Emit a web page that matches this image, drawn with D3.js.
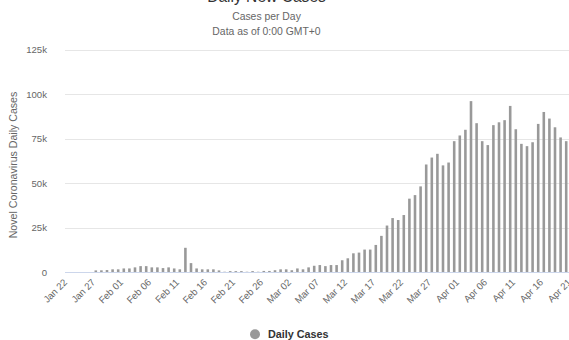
<!DOCTYPE html>
<html><head><meta charset="utf-8">
<script src="https://cdn.jsdelivr.net/npm/d3@7"></script>
<style>
html,body{margin:0;padding:0;background:#fff;overflow:hidden;}
svg{display:block;font-family:"Liberation Sans",Arial,Helvetica,sans-serif;}
</style></head>
<body><svg id="chart" width="569" height="340"></svg>
<script>
const categories = [
 "Jan 22","Jan 23","Jan 24","Jan 25","Jan 26","Jan 27","Jan 28","Jan 29","Jan 30","Jan 31",
 "Feb 01","Feb 02","Feb 03","Feb 04","Feb 05","Feb 06","Feb 07","Feb 08","Feb 09","Feb 10",
 "Feb 11","Feb 12","Feb 13","Feb 14","Feb 15","Feb 16","Feb 17","Feb 18","Feb 19","Feb 20",
 "Feb 21","Feb 22","Feb 23","Feb 24","Feb 25","Feb 26","Feb 27","Feb 28","Feb 29",
 "Mar 01","Mar 02","Mar 03","Mar 04","Mar 05","Mar 06","Mar 07","Mar 08","Mar 09","Mar 10",
 "Mar 11","Mar 12","Mar 13","Mar 14","Mar 15","Mar 16","Mar 17","Mar 18","Mar 19","Mar 20",
 "Mar 21","Mar 22","Mar 23","Mar 24","Mar 25","Mar 26","Mar 27","Mar 28","Mar 29","Mar 30","Mar 31",
 "Apr 01","Apr 02","Apr 03","Apr 04","Apr 05","Apr 06","Apr 07","Apr 08","Apr 09","Apr 10",
 "Apr 11","Apr 12","Apr 13","Apr 14","Apr 15","Apr 16","Apr 17","Apr 18","Apr 19","Apr 20","Apr 21"
];
const dailyCases = [
 0,0,0,0,0,900,950,1100,1500,1500,
 2000,2000,2600,3300,3300,2600,2600,2200,2600,2000,
 1500,13600,5000,2000,1500,1500,1500,900,150,500,
 500,500,150,500,150,600,600,1000,1500,
 1500,1000,2000,1500,2600,3500,3900,3300,3900,3900,
 6600,7700,10500,10900,12600,12600,15200,20300,26100,30300,
 29200,32000,41200,43200,48100,60400,64300,66400,59900,61500,73500,
 76700,79900,96000,83600,73500,71300,82500,84100,85300,93300,
 80200,72000,70700,72900,83200,89900,86200,81300,75600,73500,76000
];
const xTickLabels = ["Jan 22","Jan 27","Feb 01","Feb 06","Feb 11","Feb 16","Feb 21","Feb 26","Mar 02","Mar 07","Mar 12","Mar 17","Mar 22","Mar 27","Apr 01","Apr 06","Apr 11","Apr 16","Apr 21"];
const yTickValues = [0,25000,50000,75000,100000,125000];
const yTickLabels = ["0","25k","50k","75k","100k","125k"];
const titleText = "Daily New Cases";
const subtitleLines = ["Cases per Day","Data as of 0:00 GMT+0"];
const yAxisTitle = "Novel Coronavirus Daily Cases";
const seriesName = "Daily Cases";

const svg = d3.select("#chart");
svg.append("rect").attr("width",569).attr("height",340).attr("fill","#fff");

const plotLeft = 65, plotRight = 574.6, plotTop = 49.5, plotBottom = 272;
const x = d3.scaleBand().domain(categories).range([plotLeft,plotRight]).paddingInner(0.54).paddingOuter(0.27);
const y = d3.scaleLinear().domain([0,125000]).range([plotBottom,plotTop]);

// gridlines
svg.append("g").selectAll("line").data(yTickValues.slice(1)).join("line")
  .attr("x1",plotLeft).attr("x2",600)
  .attr("y1",d=>Math.round(y(d))+0.5).attr("y2",d=>Math.round(y(d))+0.5)
  .attr("stroke","#e6e6e6").attr("stroke-width",1);

// bars
svg.append("g").selectAll("rect").data(dailyCases).join("rect")
  .attr("x",(d,i)=>x(categories[i]))
  .attr("width",x.bandwidth())
  .attr("y",d=>y(d))
  .attr("height",d=>plotBottom-y(d))
  .attr("fill","#999999");

// x axis line
svg.append("line").attr("x1",plotLeft).attr("x2",600)
  .attr("y1",plotBottom+0.5).attr("y2",plotBottom+0.5)
  .attr("stroke","#ccd6eb").attr("stroke-width",1);

// x axis labels
const xAxis = d3.axisBottom(x).tickValues(xTickLabels).tickSize(0).tickPadding(0);
const gx = svg.append("g").attr("transform",`translate(0,${plotBottom})`).call(xAxis);
gx.select(".domain").remove();
gx.selectAll("text")
  .attr("fill","#666").attr("font-size","9.6px")
  .attr("text-anchor","end")
  .attr("dy",null).attr("y",null)
  .attr("transform","translate(0,11) rotate(-45)");

// y axis labels
const yAxis = d3.axisLeft(y).tickValues(yTickValues).tickFormat((d,i)=>yTickLabels[i]).tickSize(0).tickPadding(0);
const gy = svg.append("g").attr("transform","translate(47,0)").call(yAxis);
gy.select(".domain").remove();
gy.selectAll("text").attr("fill","#666").attr("font-size","9.6px");

// y axis title
svg.append("text").attr("transform","translate(17,165) rotate(-90)")
  .attr("text-anchor","middle").attr("fill","#666").attr("font-size","10.6px")
  .text(yAxisTitle);

// title & subtitle
svg.append("text").attr("x",266.5).attr("y",2).attr("text-anchor","middle")
  .attr("fill","#333").attr("font-size","15.6px").text(titleText);
svg.append("text").attr("x",266.5).attr("y",20).attr("text-anchor","middle")
  .attr("fill","#666").attr("font-size","10.4px").text(subtitleLines[0]);
svg.append("text").attr("x",266.5).attr("y",34.5).attr("text-anchor","middle")
  .attr("fill","#666").attr("font-size","10.4px").text(subtitleLines[1]);

// legend
svg.append("circle").attr("cx",255).attr("cy",334.3).attr("r",5).attr("fill","#999");
svg.append("text").attr("x",268).attr("y",338.3).attr("fill","#333")
  .attr("font-size","10.8px").attr("font-weight","bold").text(seriesName);
</script></body></html>
